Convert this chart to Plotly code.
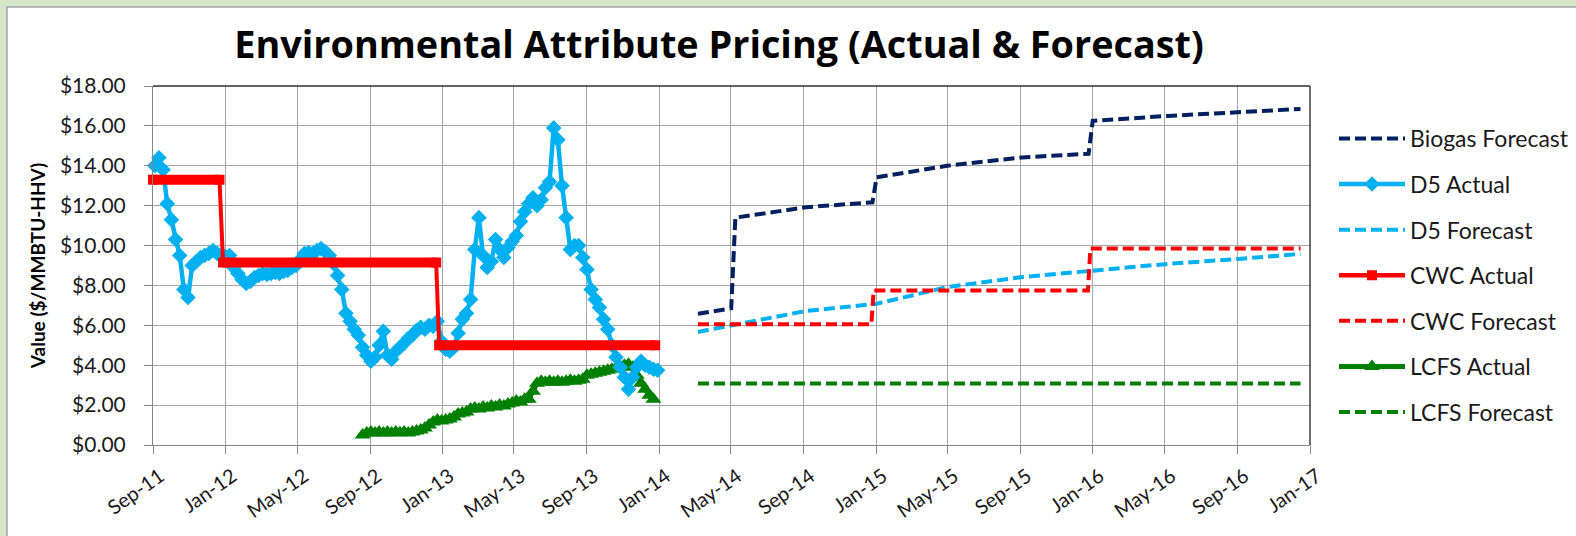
import plotly.graph_objects as go
import pandas as pd

# ---------------- data ----------------
d5_start = "2011-09-04"
d5_values = [
    14.0, 14.4, 13.8, 12.1, 11.3, 10.3, 9.5, 7.8, 7.4, 9.0,
    9.2, 9.4, 9.5, 9.6, 9.75, 9.6, 9.5, 9.45, 9.5, 8.9,
    8.6, 8.3, 8.1, 8.2, 8.4, 8.5, 8.6, 8.55, 8.6, 8.65,
    8.6, 8.7, 8.75, 8.9, 9.0, 9.3, 9.6, 9.65, 9.6, 9.75,
    9.85, 9.7, 9.5, 9.1, 8.5, 7.8, 6.6, 6.2, 5.8, 5.5,
    4.9, 4.5, 4.2, 4.4, 5.0, 5.7, 4.5, 4.3, 4.7, 4.9,
    5.1, 5.35, 5.5, 5.75, 5.9, 5.8, 6.0, 5.95, 6.2, 5.2,
    4.8, 4.7, 4.9, 5.6, 6.3, 6.6, 7.3, 9.8, 11.4, 9.5,
    8.9, 9.2, 10.3, 9.8, 9.4, 9.9, 10.2, 10.5, 11.2, 11.7,
    12.1, 12.4, 12.0, 12.3, 12.9, 13.2, 15.9, 15.3, 13.0, 11.4,
    9.8, 10.0, 10.0, 9.4, 8.8, 7.8, 7.3, 6.9, 6.3, 5.8,
    5.0, 4.4, 3.9, 3.4, 2.8, 3.4, 3.9, 4.2, 4.0, 3.9,
    3.8, 3.75,
]

lcfs_start = "2012-08-19"
lcfs_values = [
    0.5, 0.6, 0.65, 0.6, 0.65, 0.6, 0.65, 0.6, 0.65, 0.62,
    0.65, 0.6, 0.65, 0.7, 0.75, 0.85, 1.0, 1.15, 1.25, 1.2,
    1.25, 1.3, 1.4, 1.55, 1.6, 1.65, 1.8, 1.85, 1.8, 1.9,
    1.85, 1.95, 1.9, 2.0, 1.95, 2.05, 2.1, 2.2, 2.15, 2.3,
    2.3, 2.7, 3.1, 3.2, 3.15, 3.2, 3.15, 3.2, 3.15, 3.2,
    3.25, 3.2, 3.25, 3.3, 3.5, 3.55, 3.6, 3.65, 3.7, 3.75,
    3.8, 3.85, 3.95, 4.0, 4.05, 3.9, 3.5, 3.1, 2.8, 2.5,
    2.3,
]

cwc_start = ["2011-09-01", "2011-12-28", "2012-12-26"]
cwc_end = ["2011-12-22", "2012-12-21", "2013-12-25"]
cwc_value = [13.3, 9.15, 5.0]

biogas_dates = ["2014-03-07", "2014-05-02", "2014-05-09", "2014-09-05", "2014-12-26",
                "2015-01-02", "2015-05-01", "2015-09-04", "2015-12-25", "2016-01-01",
                "2016-05-06", "2016-09-02", "2016-12-16"]
biogas_values = [6.58, 6.85, 11.4, 11.92, 12.17, 13.42, 14.0, 14.42, 14.6, 16.25,
                 16.5, 16.67, 16.85]

d5f_dates = ["2014-03-07", "2014-05-02", "2014-09-05", "2015-01-02", "2015-05-01",
             "2015-09-04", "2016-01-01", "2016-05-06", "2016-09-02", "2016-12-16"]
d5f_values = [5.67, 6.0, 6.72, 7.08, 7.92, 8.42, 8.75, 9.08, 9.33, 9.58]

cwcf_dates = ["2014-03-07", "2014-12-24", "2014-12-28", "2015-12-24", "2015-12-28", "2016-12-16"]
cwcf_values = [6.05, 6.05, 7.75, 7.75, 9.85, 9.85]

lcfsf_dates = ["2014-03-07", "2016-12-16"]
lcfsf_values = [3.08, 3.08]

# ---------------- style ----------------
W, H = 1576, 536
ML, MR, MT, MB = 153, 266, 86, 91
PW, PH = W - ML - MR, H - MT - MB
FONT = "Lato, 'Open Sans', sans-serif"
TFONT = "'Open Sans', Lato, sans-serif"
NAVY, SKY, RED, GREEN = "#002060", "#00b0f0", "#ff0000", "#008000"
DASH = "11px,5px"


def px_x(p):
    return (p - ML) / PW


def px_y(p):
    return (H - MB - p) / PH


d5_dates = pd.date_range(d5_start, periods=len(d5_values), freq="7D")
lcfs_dates = pd.date_range(lcfs_start, periods=len(lcfs_values), freq="7D")

# CWC step path and thick bars
cwc_path_x, cwc_path_y, cwc_bar_x, cwc_bar_y = [], [], [], []
for s, e, v in zip(cwc_start, cwc_end, cwc_value):
    cwc_path_x += [s, e]
    cwc_path_y += [v, v]
    cwc_bar_x += [s, e, None]
    cwc_bar_y += [v, v, None]

fig = go.Figure()


def fc(name, x, y, color, rank):
    fig.add_trace(go.Scatter(
        x=x, y=y, name=name, mode="lines",
        line=dict(color=color, width=4, dash=DASH),
        legendrank=rank, legendgroup=name, hoverinfo="skip"))


fc("Biogas Forecast", biogas_dates, biogas_values, NAVY, 1)
fc("D5 Forecast", d5f_dates, d5f_values, SKY, 3)
fc("CWC Forecast", cwcf_dates, cwcf_values, RED, 5)
fc("LCFS Forecast", lcfsf_dates, lcfsf_values, GREEN, 7)

fig.add_trace(go.Scatter(
    x=lcfs_dates, y=lcfs_values, name="LCFS Actual", mode="lines+markers",
    line=dict(color=GREEN, width=5),
    marker=dict(symbol="triangle-up", size=14, color=GREEN),
    legendrank=6, legendgroup="LCFS Actual", cliponaxis=False))

fig.add_trace(go.Scatter(
    x=d5_dates, y=d5_values, name="D5 Actual", mode="lines+markers",
    line=dict(color=SKY, width=4.5),
    marker=dict(symbol="diamond", size=12, color=SKY),
    legendrank=2, legendgroup="D5 Actual", cliponaxis=False))

fig.add_trace(go.Scatter(
    x=cwc_path_x, y=cwc_path_y, mode="lines", showlegend=False,
    line=dict(color=RED, width=4), legendgroup="CWC Actual"))
fig.add_trace(go.Scatter(
    x=cwc_bar_x, y=cwc_bar_y, mode="lines+markers", showlegend=False,
    line=dict(color=RED, width=10),
    marker=dict(symbol="square", size=10, color=RED),
    legendgroup="CWC Actual", cliponaxis=False))
fig.add_trace(go.Scatter(
    x=[None], y=[None], name="CWC Actual", mode="lines+markers",
    line=dict(color=RED, width=4.5),
    marker=dict(symbol="square", size=10, color=RED),
    legendrank=4, legendgroup="CWC Actual"))

shapes = [
    dict(type="rect", xref="paper", yref="paper", layer="below",
         x0=px_x(7), x1=px_x(1600), y0=px_y(560), y1=px_y(7),
         fillcolor="white", line=dict(color="#a3a3a3", width=1.5)),
    dict(type="line", xref="paper", yref="paper", x0=0, x1=1, y0=1, y1=1,
         line=dict(color="#303030", width=1.3)),
    dict(type="line", xref="paper", yref="paper", x0=1, x1=1, y0=0, y1=1,
         line=dict(color="#202020", width=1.3)),
]

fig.update_layout(
    width=W, height=H,
    margin=dict(l=ML, r=MR, t=MT, b=MB, autoexpand=False),
    paper_bgcolor="#d5e5c7", plot_bgcolor="white",
    font=dict(family=FONT, color="#1a1a1a"),
    shapes=shapes,
    title=dict(text="Environmental Attribute Pricing (Actual & Forecast)",
               font=dict(family=TFONT, size=37.8, weight="bold", color="black"),
               xref="paper", x=px_x(719), xanchor="center",
               yref="container", y=1 - 45 / H, yanchor="middle"),
    showlegend=True,
    legend=dict(x=px_x(1334), xanchor="left", y=px_y(117), yanchor="top",
                xref="paper", yref="paper",
                font=dict(family=FONT, size=23, color="#1a1a1a"),
                itemwidth=66, tracegroupgap=12.7, bgcolor="rgba(0,0,0,0)",
                traceorder="grouped"),
    xaxis=dict(type="date", range=["2011-09-01", "2017-01-01"],
               tick0="2011-09-01", dtick="M4", tickformat="%b-%y",
               tickangle=-35, ticks="outside", ticklen=8, tickcolor="#868686",
               ticklabelshift=7, ticklabelstandoff=3,
               showgrid=True, gridcolor="#a6a6a6", gridwidth=1,
               showline=True, linecolor="#868686", linewidth=1,
               tickfont=dict(family=FONT, size=20, color="#1a1a1a"),
               fixedrange=True),
    yaxis=dict(range=[0, 18], dtick=2, tickformat=".2f", tickprefix="$",
               ticks="outside", ticklen=8, tickcolor="#868686",
               showgrid=True, gridcolor="#a6a6a6", gridwidth=1,
               zeroline=False, showline=True, linecolor="#868686", linewidth=1,
               tickfont=dict(family=FONT, size=21, color="#1a1a1a"),
               ticklabelstandoff=14,
               title=dict(text="Value ($/MMBTU-HHV)", standoff=9,
                          font=dict(family=FONT, size=19, weight="bold", color="black")),
               fixedrange=True),
)

fig.write_html("out.html",
               config={"displayModeBar": False, "staticPlot": True},
               post_script="document.body.style.margin='0px';"
                           "document.body.style.overflow='hidden';")
